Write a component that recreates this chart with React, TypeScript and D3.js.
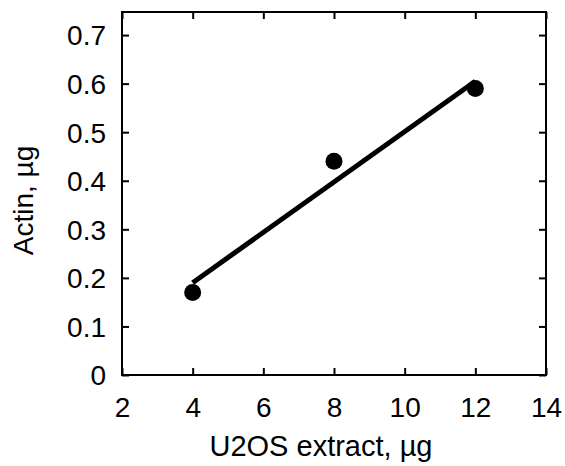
import React, { useEffect, useRef } from 'react';
import * as d3 from 'd3';

// measured points
const extractUg = [4, 8, 12];
const actinUg = [0.17, 0.44, 0.59];

// fitted line, endpoints
const fitX = [4, 12];
const fitY = [0.19, 0.605];

const xTicks = [2, 4, 6, 8, 10, 12, 14];
const yTicks = [0, 0.1, 0.2, 0.3, 0.4, 0.5, 0.6, 0.7];

const W = 565;
const H = 466;
const margin = { top: 12, right: 19, bottom: 91, left: 122 };
const FONT = '"Liberation Sans", Arial, Helvetica, sans-serif';
const FS = 28;

const App = () => {
  const svgRef = useRef<SVGSVGElement>(null);

  useEffect(() => {
    const width = W - margin.left - margin.right;
    const height = H - margin.top - margin.bottom;

    const x = d3.scaleLinear().domain([2, 14]).range([0, width]);
    const y = d3.scaleLinear().domain([0, 0.7475]).range([height, 0]);

    const svgEl = d3.select(svgRef.current);
    svgEl.selectAll('*').remove();
    const svg = svgEl
      .append('g')
      .attr('transform', `translate(${margin.left},${margin.top})`);

    const tickLen = 7;
    const styleAxis = (g) => {
      g.select('.domain').remove();
      g.selectAll('line').attr('stroke', '#000').attr('stroke-width', 2);
      g.selectAll('text')
        .attr('fill', '#000')
        .attr('font-size', FS)
        .attr('font-family', FONT);
    };

    // bottom + left with labels, ticks pointing inward
    const xAxis = svg
      .append('g')
      .attr('transform', `translate(0,${height})`)
      .call(
        d3.axisBottom(x).tickValues(xTicks).tickSize(-tickLen).tickPadding(22).tickFormat(d3.format('d'))
      );
    styleAxis(xAxis);
    xAxis.selectAll('text').attr('dy', '0.71em');

    const yAxis = svg
      .append('g')
      .call(
        d3.axisLeft(y).tickValues(yTicks).tickSize(-tickLen).tickPadding(16).tickFormat((d) => (d === 0 ? '0' : d3.format('.1f')(d)))
      );
    styleAxis(yAxis);
    yAxis.selectAll('text').attr('dy', '0.35em');

    // top + right, ticks only
    const xTop = svg
      .append('g')
      .call(d3.axisTop(x).tickValues(xTicks).tickSize(-tickLen).tickFormat(() => ''));
    styleAxis(xTop);
    const yRight = svg
      .append('g')
      .attr('transform', `translate(${width},0)`)
      .call(d3.axisRight(y).tickValues(yTicks).tickSize(-tickLen).tickFormat(() => ''));
    styleAxis(yRight);

    // frame
    svg
      .append('rect')
      .attr('x', 0)
      .attr('y', 0)
      .attr('width', width)
      .attr('height', height)
      .attr('fill', 'none')
      .attr('stroke', '#000')
      .attr('stroke-width', 2);

    // fit line
    const line = d3
      .line<number>()
      .x((d) => x(d))
      .y((d, i) => y(fitY[i]));
    svg
      .append('path')
      .attr('d', line(fitX))
      .attr('fill', 'none')
      .attr('stroke', '#000')
      .attr('stroke-width', 5);

    // points
    svg
      .selectAll('.pt')
      .data(extractUg)
      .enter()
      .append('circle')
      .attr('cx', (d) => x(d))
      .attr('cy', (d, i) => y(actinUg[i]))
      .attr('r', 8.5)
      .attr('fill', '#000');

    // axis titles
    svg
      .append('text')
      .attr('x', width / 2 - 13)
      .attr('y', height + 81)
      .attr('text-anchor', 'middle')
      .attr('font-size', 29)
      .attr('font-family', FONT)
      .text('U2OS extract, µg');

    svg
      .append('text')
      .attr('transform', `translate(${-89},${height / 2 + 7}) rotate(-90)`)
      .attr('text-anchor', 'middle')
      .attr('font-size', FS)
      .attr('font-family', FONT)
      .text('Actin, µg');
  }, []);

  return (
    <svg
      ref={svgRef}
      width={W}
      height={H}
      style={{ position: 'absolute', left: 0, top: 0, background: '#fff' }}
    />
  );
};

export default App;
